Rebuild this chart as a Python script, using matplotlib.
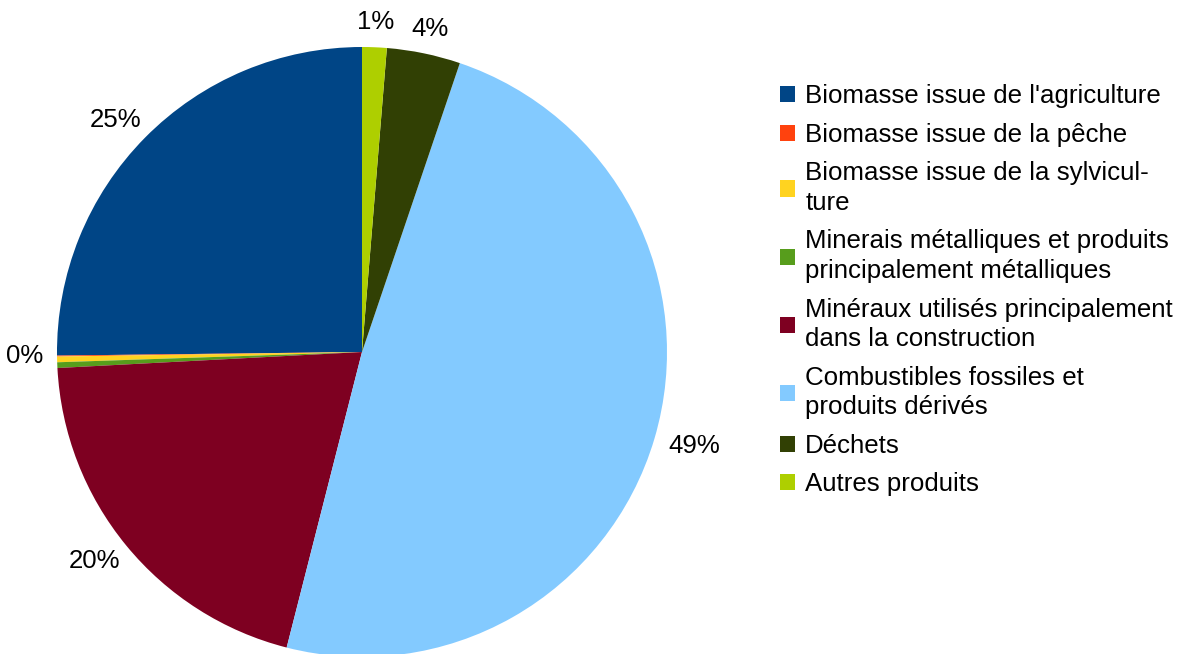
import matplotlib
matplotlib.use("Agg")
import matplotlib.pyplot as plt
import numpy as np

categories = [
    "Biomasse issue de l'agriculture",
    "Biomasse issue de la pêche",
    "Biomasse issue de la sylvicul-\nture",
    "Minerais métalliques et produits\nprincipalement métalliques",
    "Minéraux utilisés principalement\ndans la construction",
    "Combustibles fossiles et\nproduits dérivés",
    "Déchets",
    "Autres produits",
]
values = [25.2, 0.05, 0.3, 0.3, 20.2, 48.8, 3.9, 1.3]
pct_labels = ["25%", "0%", "", "", "20%", "49%", "4%", "1%"]
colors = ["#004586", "#ff420e", "#ffd320", "#579d1c", "#7e0021", "#83caff", "#314004", "#aecf00"]

plt.rcParams['font.family'] = ['Liberation Sans', 'DejaVu Sans']

W, H = 1180, 654
FS = 18.6
fig = plt.figure(figsize=(W / 100, H / 100), dpi=100)
R = 305.0
cx, cy = 362.0, 654 - 352.0
axw = 2 * cx
ax = fig.add_axes([0, 0, axw / W, 1])
wedges, _ = ax.pie(values, colors=colors, startangle=90, counterclock=True,
                   radius=1.0, wedgeprops=dict(linewidth=0))
ax.set_xlim(-cx / R, (axw - cx) / R)
ax.set_ylim(-cy / R, (H - cy) / R)
ax.set_aspect('auto')
ax.axis('off')

r0 = 1.05
half_h = 10 / R
for w, lab in zip(wedges, pct_labels):
    if not lab:
        continue
    half_w = len(lab) * 8.7 / R
    ang = np.deg2rad((w.theta1 + w.theta2) / 2)
    c, s = np.cos(ang), np.sin(ang)
    x = r0 * c + c * half_w
    y = r0 * s + s * half_h
    ax.text(x, y, lab, ha='center', va='center', fontsize=FS, color='black')

leg = fig.legend(wedges, categories, loc='upper left',
                 bbox_to_anchor=(770 / W, 1 - 74 / H), frameon=False,
                 fontsize=FS, handlelength=0.58, handleheight=0.58,
                 handletextpad=0.38, labelspacing=0.56, borderaxespad=0)
for t in leg.get_texts():
    t.set_linespacing(1.3)

fig.savefig("out.png", dpi=100)
